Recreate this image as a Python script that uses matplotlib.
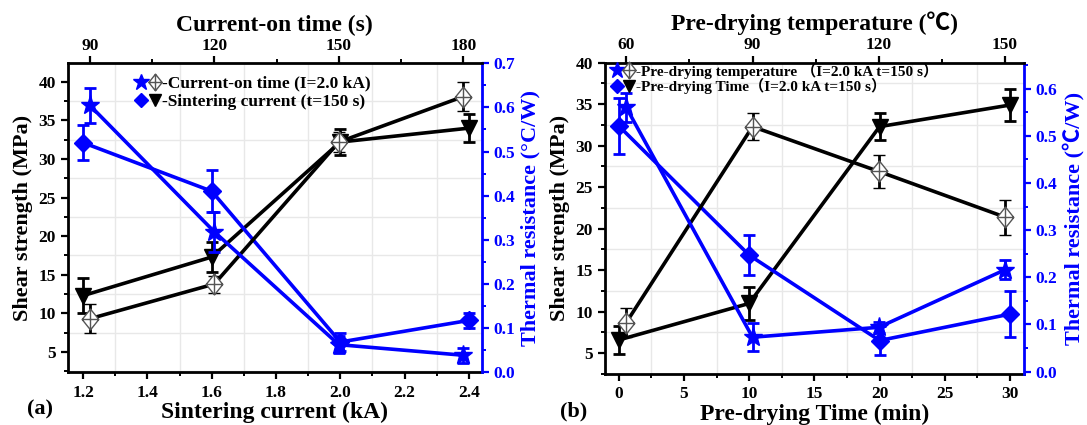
import numpy as np
import matplotlib
matplotlib.use("Agg")
import matplotlib.pyplot as plt
from matplotlib.path import Path
from matplotlib.lines import Line2D
from matplotlib.legend_handler import HandlerTuple
from matplotlib.ticker import MultipleLocator, FormatStrFormatter

plt.rcParams['font.family'] = ['Liberation Serif', 'Noto Sans CJK SC', 'DejaVu Sans']
plt.rcParams['font.weight'] = 'bold'
plt.rcParams['axes.labelweight'] = 'bold'

BLUE = '#0000ff'

# ---- panel (a): sintering current / current-on time ----
current = [1.2, 1.6, 2.0, 2.4]
on_time = [90, 120, 150, 180]
shear_current = [12.3, 17.3, 32.2, 34.0]
shear_current_err = [2.3, 1.9, 1.7, 1.8]
shear_time = [9.3, 13.8, 32.2, 38.1]
shear_time_err = [1.9, 1.1, 1.3, 1.9]
res_current = [0.52, 0.41, 0.068, 0.117]
res_current_err = [0.04, 0.048, 0.02, 0.017]
res_time = [0.605, 0.318, 0.062, 0.038]
res_time_err = [0.04, 0.045, 0.02, 0.017]

# ---- panel (b): pre-drying time / pre-drying temperature ----
dry_time = [0, 10, 20, 30]
dry_temp = [60, 90, 120, 150]
shear_dtime = [6.6, 11.0, 32.3, 34.9]
shear_dtime_err = [1.7, 2.0, 1.6, 1.9]
shear_dtemp = [8.7, 32.3, 26.9, 21.4]
shear_dtemp_err = [1.7, 1.6, 2.0, 2.1]
res_dtime = [0.521, 0.247, 0.066, 0.122]
res_dtime_err = [0.06, 0.042, 0.03, 0.049]
res_dtemp = [0.56, 0.073, 0.094, 0.216]
res_dtemp_err = [0.03, 0.03, 0.012, 0.02]


# open diamond with a cross through it
def diamond_cross():
    verts = [(0, 1), (0.8, 0), (0, -1), (-0.8, 0), (0, 1),
             (0, 1), (0, -1), (-0.8, 0), (0.8, 0)]
    codes = [Path.MOVETO, Path.LINETO, Path.LINETO, Path.LINETO, Path.CLOSEPOLY,
             Path.MOVETO, Path.LINETO, Path.MOVETO, Path.LINETO]
    return Path(verts, codes)


DX = diamond_cross()
eb = dict(elinewidth=2, capsize=4, capthick=2, lw=2.6)

styles = {
    'tri': dict(color='black', marker='v', ms=11, mfc='black', mec='black'),
    'dx': dict(color='black', marker=DX, ms=15, mfc='white', mec='#555555', mew=1),
    'dia': dict(color=BLUE, marker='D', ms=9, mfc=BLUE, mec=BLUE),
    'star': dict(color=BLUE, marker='*', ms=14, mfc=BLUE, mec=BLUE),
}


def make_panel(fig, rect, xlim, txlim, ylim, rylim):
    ax = fig.add_axes(rect)
    ax_r = ax.twinx()
    ax_t = ax.twiny()
    ax_tr = ax_r.twiny()   # top x + right y, only used for drawing
    ax.set_xlim(xlim)
    ax.set_ylim(ylim)
    ax_r.set_ylim(rylim)
    ax_t.set_xlim(txlim)
    ax_tr.set_xlim(txlim)
    ax_tr.set_axis_off()

    ax.spines['right'].set_visible(False)
    ax.spines['top'].set_visible(False)
    for s in ['left', 'top', 'bottom']:
        ax_r.spines[s].set_visible(False)
    for s in ['left', 'right', 'bottom']:
        ax_t.spines[s].set_visible(False)
    for s in ax.spines.values():
        s.set_linewidth(2)
    ax_t.spines['top'].set_linewidth(2)
    ax_r.spines['right'].set_linewidth(2)
    ax_r.spines['right'].set_color(BLUE)

    for a in (ax, ax_t):
        a.tick_params(which='major', direction='out', length=5, width=1.6,
                      labelsize=12.5, color='black')
        a.tick_params(which='minor', direction='out', length=3, width=1.4)
    ax_r.tick_params(which='major', direction='out', length=5, width=1.6,
                     labelsize=12.5, color=BLUE, labelcolor=BLUE)
    ax_r.tick_params(which='minor', direction='out', length=3, width=1.4,
                     color=BLUE)
    ax.tick_params(axis='x', pad=4)
    ax_t.tick_params(axis='x', pad=2)

    ax.yaxis.set_major_locator(MultipleLocator(5))
    ax.yaxis.set_minor_locator(MultipleLocator(2.5))
    ax_r.yaxis.set_major_locator(MultipleLocator(0.1))
    ax_r.yaxis.set_minor_locator(MultipleLocator(0.05))
    ax.grid(True, which='minor', color='#e8e8e8', lw=1)
    ax.set_axisbelow(True)
    return ax, ax_r, ax_t, ax_tr


fig = plt.figure(figsize=(10.87, 4.25), dpi=100)

# legend keys
h_star = Line2D([], [], ls='none', marker='*', ms=12, color=BLUE)
h_dx = Line2D([], [], ls='none', marker=DX, ms=12, mfc='white', mec='#555555', mew=1)
h_dia = Line2D([], [], ls='none', marker='D', ms=7, color=BLUE)
h_tri = Line2D([], [], ls='none', marker='v', ms=9, color='black')

# ---------------- (a) ----------------
ax, ax_r, ax_t, ax_tr = make_panel(fig, [0.0623, 0.1247, 0.3808, 0.7263],
                                   (1.152, 2.44), (84.7, 184.4), (2.4, 42.4), (0, 0.7))
ax.xaxis.set_major_locator(MultipleLocator(0.2))
ax.xaxis.set_minor_locator(MultipleLocator(0.1))
ax.xaxis.set_major_formatter(FormatStrFormatter('%.1f'))
ax_t.xaxis.set_major_locator(MultipleLocator(30))
ax_t.xaxis.set_minor_locator(MultipleLocator(15))

ax.errorbar(current, shear_current, yerr=shear_current_err, **eb, **styles['tri'])
ax_r.errorbar(current, res_current, yerr=res_current_err, **eb, **styles['dia'])
ax_t.errorbar(on_time, shear_time, yerr=shear_time_err, **eb, **styles['dx'])
ax_tr.errorbar(on_time, res_time, yerr=res_time_err, **eb, **styles['star'])

ax.set_xlabel('Sintering current (kA)', fontsize=17, labelpad=1)
ax.set_ylabel('Shear strength (MPa)', fontsize=16, labelpad=4)
ax_r.set_ylabel('Thermal resistance (°C/W)', fontsize=16, color=BLUE, labelpad=4)
ax_t.set_xlabel('Current-on time (s)', fontsize=17, labelpad=5)

ax_tr.legend([(h_star, h_dx), (h_dia, h_tri)],
             ['-Current-on time (I=2.0 kA)', '-Sintering current (t=150 s)'],
             handler_map={tuple: HandlerTuple(ndivide=None, pad=0)},
             loc='upper left', bbox_to_anchor=(0.16, 0.96), frameon=False,
             fontsize=12.5, handlelength=1.6, handletextpad=0.0, labelspacing=0.1,
             borderpad=0, borderaxespad=0)

fig.text(0.025, 0.025, '(a)', fontsize=16, fontweight='bold')

# ---------------- (b) ----------------
bx, bx_r, bx_t, bx_tr = make_panel(fig, [0.5564, 0.12, 0.3856, 0.7325],
                                   (-1.07, 31.07), (54.9, 154.5), (2.5, 40), (-0.005, 0.655))
bx.xaxis.set_major_locator(MultipleLocator(5))
bx.xaxis.set_minor_locator(MultipleLocator(2.5))
bx_t.xaxis.set_major_locator(MultipleLocator(30))
bx_t.xaxis.set_minor_locator(MultipleLocator(15))

bx.errorbar(dry_time, shear_dtime, yerr=shear_dtime_err, **eb, **styles['tri'])
bx_r.errorbar(dry_time, res_dtime, yerr=res_dtime_err, **eb, **styles['dia'])
bx_t.errorbar(dry_temp, shear_dtemp, yerr=shear_dtemp_err, **eb, **styles['dx'])
bx_tr.errorbar(dry_temp, res_dtemp, yerr=res_dtemp_err, **eb, **styles['star'])

bx.set_xlabel('Pre-drying Time (min)', fontsize=17, labelpad=1)
bx.set_ylabel('Shear strength (MPa)', fontsize=16, labelpad=4)
bx_r.set_ylabel('Thermal resistance (℃/W)', fontsize=16, color=BLUE, labelpad=4)
bx_t.set_xlabel('Pre-drying temperature (℃)', fontsize=17, labelpad=5)

bx_tr.legend([(h_star, h_dx), (h_dia, h_tri)],
             ['-Pre-drying temperature （I=2.0 kA t=150 s）',
              '-Pre-drying Time（I=2.0 kA t=150 s）'],
             handler_map={tuple: HandlerTuple(ndivide=None, pad=0)},
             loc='upper left', bbox_to_anchor=(0.015, 1.0), frameon=False,
             fontsize=11, handlelength=1.6, handletextpad=0.0, labelspacing=-0.05,
             borderpad=0, borderaxespad=0)

fig.text(0.515, 0.02, '(b)', fontsize=16, fontweight='bold')

fig.savefig('out.png', dpi=100)
